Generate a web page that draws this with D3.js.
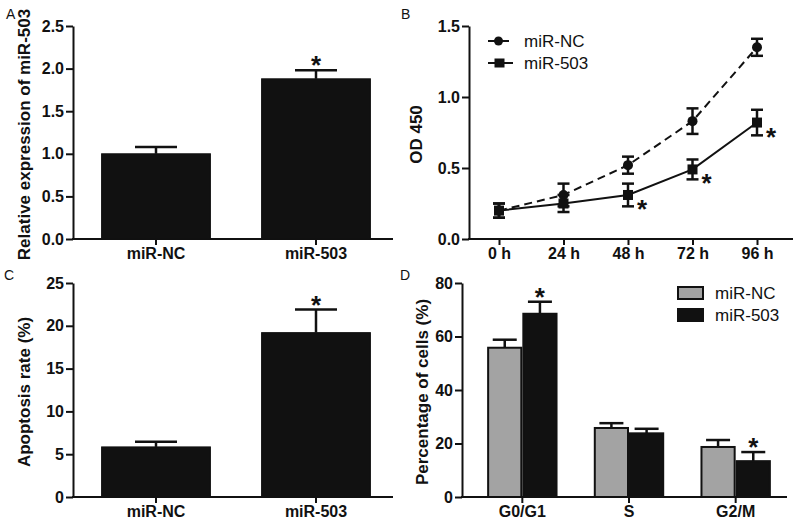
<!DOCTYPE html>
<html><head><meta charset="utf-8">
<script src="https://cdn.jsdelivr.net/npm/d3@7"></script>
<style>
body{margin:0;background:#fff;}
svg{display:block;font-family:"Liberation Sans",Arial,sans-serif;}
.tick text{font-weight:bold;font-size:16px;fill:#111;}
.ttl{font-weight:bold;font-size:17px;fill:#111;}
.lbl{font-size:14px;fill:#111;}
.leg{font-size:17px;fill:#111;}
.star{font-weight:bold;font-size:26px;fill:#111;}
</style></head><body>
<script>
// ---- data ----
const groupsAC = ["miR-NC","miR-503"];
const exprMean = [1.00, 1.88];
const exprErr  = [0.08, 0.10];
const apopMean = [5.85, 19.2];
const apopErr  = [0.6, 2.7];

const timeLabels = ["0 h","24 h","48 h","72 h","96 h"];
const odNC     = [0.20, 0.31, 0.52, 0.83, 1.35];
const odNCErr  = [0.05, 0.08, 0.06, 0.09, 0.06];
const od503    = [0.20, 0.25, 0.31, 0.49, 0.82];
const od503Err = [0.05, 0.06, 0.08, 0.07, 0.09];
const od503Sig = [false, false, true, true, true];

const phases   = ["G0/G1","S","G2/M"];
const seriesD  = ["miR-NC","miR-503"];
const phaseNC  = [55.8, 25.8, 18.7];
const phaseNCErr = [3.0, 1.8, 2.6];
const phase503 = [68.5, 23.8, 13.4];
const phase503Err = [4.5, 1.7, 3.4];
const phase503Sig = [true, false, true];

const svg = d3.select("body").append("svg").attr("width",794).attr("height",525);
const INK = "#111";

function star(x, yc){ svg.append("text").attr("class","star").attr("x",x).attr("y",yc+15).attr("text-anchor","middle").text("*"); }
function yTitle(x, yc, t){ svg.append("text").attr("class","ttl").attr("transform",`translate(${x},${yc}) rotate(-90)`).attr("text-anchor","middle").text(t); }
function styleAxis(g){ g.selectAll("path,line").attr("stroke",INK).attr("stroke-width",2); }
function xAxisLine(x0,x1,y){ svg.append("line").attr("x1",x0).attr("x2",x1).attr("y1",y).attr("y2",y).attr("stroke",INK).attr("stroke-width",2); }

// ---- simple 2-bar panels (A, C) ----
function barPanel(opt){
  const y = d3.scaleLinear().domain([0,opt.max]).range([opt.y0,opt.y1]);
  const x = d3.scaleBand().domain(groupsAC).range([76,396]).paddingInner(0.32).paddingOuter(0.16);
  const ya = svg.append("g").attr("transform",`translate(73,0)`)
    .call(d3.axisLeft(y).tickValues(opt.ticks).tickFormat(opt.fmt).tickSize(7).tickPadding(2).tickSizeOuter(0));
  styleAxis(ya);
  const xa = svg.append("g").attr("transform",`translate(0,${opt.y0})`)
    .call(d3.axisBottom(x).tickSize(6).tickPadding(3));
  xa.select(".domain").remove(); styleAxis(xa);
  xAxisLine(72,393,opt.y0);
  opt.mean.forEach((m,i)=>{
    const cx = x(groupsAC[i])+x.bandwidth()/2;
    const top = y(m+opt.err[i]);
    svg.append("line").attr("x1",cx).attr("x2",cx).attr("y1",y(m)).attr("y2",top).attr("stroke",INK).attr("stroke-width",2.5);
    svg.append("line").attr("x1",cx-21).attr("x2",cx+21).attr("y1",top).attr("y2",top).attr("stroke",INK).attr("stroke-width",2.5);
    svg.append("rect").attr("x",x(groupsAC[i])).attr("y",y(m)).attr("width",x.bandwidth()).attr("height",opt.y0-y(m)).attr("fill",INK).attr("stroke",INK).attr("stroke-width",1);
    if(i===1) star(cx, top-11);
  });
  yTitle(30,(opt.y0+opt.y1)/2+2,opt.title);
}
barPanel({max:2.5,y0:239,y1:26,ticks:[0,0.5,1,1.5,2,2.5],fmt:d3.format(".1f"),mean:exprMean,err:exprErr,title:"Relative expression of miR-503"});
barPanel({max:25,y0:497,y1:283,ticks:[0,5,10,15,20,25],fmt:d3.format("d"),mean:apopMean,err:apopErr,title:"Apoptosis rate (%)"});

// ---- panel B ----
{
  const y = d3.scaleLinear().domain([0,1.5]).range([239,26]);
  const x = d3.scalePoint().domain(timeLabels).range([499,757]);
  const ya = svg.append("g").attr("transform","translate(469,0)")
    .call(d3.axisLeft(y).tickValues([0,0.5,1,1.5]).tickFormat(d3.format(".1f")).tickSize(7).tickPadding(2).tickSizeOuter(0));
  styleAxis(ya);
  const xa = svg.append("g").attr("transform","translate(0,239)").call(d3.axisBottom(x).tickSize(6).tickPadding(3));
  xa.select(".domain").remove(); styleAxis(xa);
  xAxisLine(468,793,239);
  const line = d3.line().x((d,i)=>x(timeLabels[i])).y(d=>y(d));
  svg.append("path").attr("d",line(odNC)).attr("fill","none").attr("stroke",INK).attr("stroke-width",2).attr("stroke-dasharray","8,5");
  svg.append("path").attr("d",line(od503)).attr("fill","none").attr("stroke",INK).attr("stroke-width",2);
  function ebar(cx,m,e){
    svg.append("line").attr("x1",cx).attr("x2",cx).attr("y1",y(m-e)).attr("y2",y(m+e)).attr("stroke",INK).attr("stroke-width",2.5);
    [m-e,m+e].forEach(v=>svg.append("line").attr("x1",cx-6).attr("x2",cx+6).attr("y1",y(v)).attr("y2",y(v)).attr("stroke",INK).attr("stroke-width",2.5));
  }
  odNC.forEach((m,i)=>{ const cx=x(timeLabels[i]); ebar(cx,m,odNCErr[i]); svg.append("circle").attr("cx",cx).attr("cy",y(m)).attr("r",5).attr("fill",INK); });
  od503.forEach((m,i)=>{ const cx=x(timeLabels[i]); ebar(cx,m,od503Err[i]); svg.append("rect").attr("x",cx-5).attr("y",y(m)-5).attr("width",10).attr("height",10).attr("fill",INK);
    if(od503Sig[i]) star(cx+14, y(m)+8); });
  yTitle(422,(239+26)/2+2,"OD 450");
  // legend
  const lx0=488, lx1=513, ly=[41,63];
  svg.append("line").attr("x1",lx0).attr("x2",lx1).attr("y1",ly[0]).attr("y2",ly[0]).attr("stroke",INK).attr("stroke-width",2).attr("stroke-dasharray","8,5");
  svg.append("circle").attr("cx",(lx0+lx1)/2-2).attr("cy",ly[0]).attr("r",4.5).attr("fill",INK);
  svg.append("line").attr("x1",lx0).attr("x2",lx1).attr("y1",ly[1]).attr("y2",ly[1]).attr("stroke",INK).attr("stroke-width",2);
  svg.append("rect").attr("x",(lx0+lx1)/2-6).attr("y",ly[1]-4.5).attr("width",10).attr("height",9).attr("fill",INK);
  svg.append("text").attr("class","leg").attr("x",524).attr("y",ly[0]+6).text("miR-NC");
  svg.append("text").attr("class","leg").attr("x",524).attr("y",ly[1]+6).text("miR-503");
}

// ---- panel D ----
{
  const y = d3.scaleLinear().domain([0,80]).range([497,283]);
  const x = d3.scaleBand().domain(phases).range([469,789]).paddingInner(0.34).paddingOuter(0.17);
  const xs = d3.scaleBand().domain(seriesD).range([0,x.bandwidth()]);
  const ya = svg.append("g").attr("transform","translate(462,0)")
    .call(d3.axisLeft(y).tickValues([0,20,40,60,80]).tickFormat(d3.format("d")).tickSize(7).tickPadding(2).tickSizeOuter(0));
  styleAxis(ya);
  const xa = svg.append("g").attr("transform","translate(0,497)").call(d3.axisBottom(x).tickSize(6).tickPadding(3));
  xa.select(".domain").remove(); styleAxis(xa);
  xAxisLine(461,787,497);
  const fills = ["#a3a3a3", INK];
  const sets = [[phaseNC,phaseNCErr],[phase503,phase503Err]];
  sets.forEach(([mean,err],s)=>{
    mean.forEach((m,i)=>{
      const bx = x(phases[i])+xs(seriesD[s]);
      const cx = bx + xs.bandwidth()/2;
      const top = y(m+err[i]);
      svg.append("line").attr("x1",cx).attr("x2",cx).attr("y1",y(m)).attr("y2",top).attr("stroke",INK).attr("stroke-width",2.5);
      svg.append("line").attr("x1",cx-12).attr("x2",cx+12).attr("y1",top).attr("y2",top).attr("stroke",INK).attr("stroke-width",2.5);
      svg.append("rect").attr("x",bx+1).attr("y",y(m)).attr("width",xs.bandwidth()-2).attr("height",497-y(m)).attr("fill",fills[s]).attr("stroke",INK).attr("stroke-width",2);
      if(s===1 && phase503Sig[i]) star(cx, top-11);
    });
  });
  yTitle(428,(497+283)/2+2,"Percentage of cells (%)");
  // legend
  [0,1].forEach(s=>{
    const yy = [287,309][s];
    svg.append("rect").attr("x",678).attr("y",yy).attr("width",25).attr("height",12).attr("fill",fills[s]).attr("stroke",INK).attr("stroke-width",2);
    svg.append("text").attr("class","leg").attr("x",715).attr("y",yy+12).text(seriesD[s]);
  });
}

// panel letters
[["A",6,19],["B",401,19],["C",4,280],["D",400,280]].forEach(([t,x,y])=>svg.append("text").attr("class","lbl").attr("x",x).attr("y",y).text(t));
</script></body></html>
